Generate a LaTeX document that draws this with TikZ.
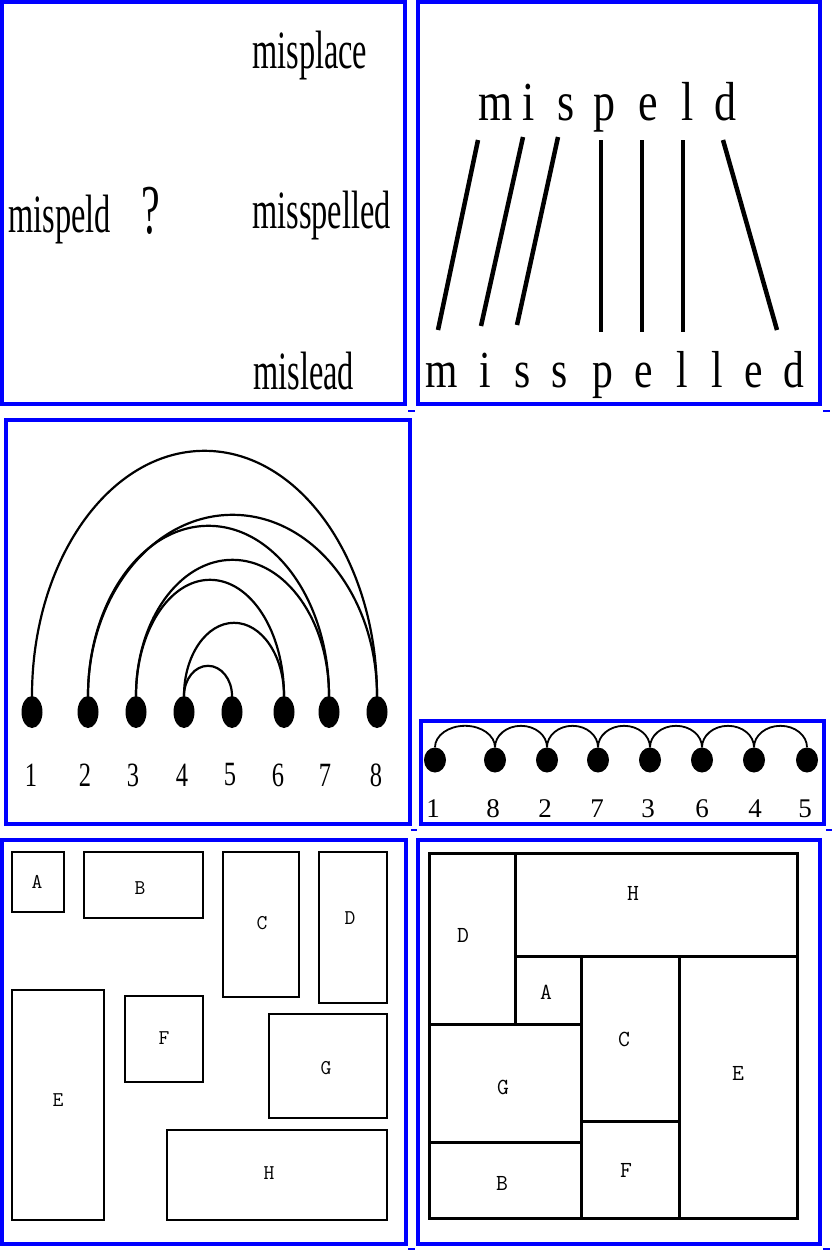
\documentclass[tikz,border=0pt]{standalone}
\usepackage{graphicx}
\usepackage{fontspec}
\setmainfont{Liberation Serif}
\usetikzlibrary{shapes.geometric}
\definecolor{frameblue}{RGB}{0,0,255}
\newcommand{\narrowword}[1]{\scalebox{0.6}[1]{#1}}
\newcommand{\midword}[1]{\scalebox{0.8}[1]{#1}}
\newcommand{\digitnarrow}[1]{\scalebox{0.72}[1]{#1}}
\begin{document}
\begin{tikzpicture}[x=1pt,y=-1pt,
  frame/.style={draw=frameblue,line width=4pt},
  tickmark/.style={draw=frameblue,line width=1.5pt},
  bigword/.style={anchor=base west,inner sep=0pt,font=\fontsize{54}{60}\selectfont},
  qmark/.style={anchor=base west,inner sep=0pt,font=\fontsize{70}{76}\selectfont},
  topletter/.style={anchor=base,inner sep=0pt,font=\fontsize{55}{60}\selectfont},
  botletter/.style={anchor=base,inner sep=0pt,font=\fontsize{52}{58}\selectfont},
  align line/.style={line width=4.5pt},
  bigdot/.style={ellipse,fill=black,draw=none,inner sep=0pt,minimum width=21pt,minimum height=32pt},
  smalldot/.style={ellipse,fill=black,draw=none,inner sep=0pt,minimum width=22pt,minimum height=25pt},
  bignum/.style={inner sep=0pt,font=\fontsize{34}{38}\selectfont},
  smallnum/.style={inner sep=0pt,font=\fontsize{27}{30}\selectfont},
  bigarc/.style={line width=2.2pt},
  smallarc/.style={line width=1.8pt},
  box/.style={draw=black,line width=2.5pt},
  tightbox/.style={draw=black,line width=3pt},
  boxlabel/.style={inner sep=0pt,font=\ttfamily\fontsize{21}{24}\selectfont},
  packlabel/.style={inner sep=0pt,font=\ttfamily\fontsize{23}{26}\selectfont}
]
\useasboundingbox[fill=white] (0,0) rectangle (834,1250);

% ---------- frames ----------
\draw[frame] (2,2) rectangle (405,404);
\draw[frame] (418,2) rectangle (820,404);
\draw[frame] (6,420) rectangle (410,824);
\draw[frame] (421,721) rectangle (824,824);
\draw[frame] (2,840) rectangle (406,1244);
\draw[frame] (418,840) rectangle (820,1244);
\draw[tickmark] (408,411) -- (415,411);
\draw[tickmark] (823,411) -- (830,411);
\draw[tickmark] (411,830) -- (417,830);
\draw[tickmark] (826,830) -- (832,830);
\draw[tickmark] (408,1249) -- (415,1249);
\draw[tickmark] (823,1249) -- (830,1249);

% ---------- panel 1 ----------
\node[bigword] (w1) at (252,68) {\narrowword{misplace}};
\node[bigword] (w0) at (8,232) {\narrowword{mispeld}};
\node[qmark] (qm) at (141,233) {\narrowword{?}};
\node[bigword] (w2) at (252,228) {\narrowword{misspelled}};
\node[bigword] (w3) at (253,389) {\narrowword{mislead}};

% ---------- panel 2 ----------
\node[topletter] (t1) at (496,120) {\midword{m}};
\node[topletter] (t2) at (529,120) {\midword{i}};
\node[topletter] (t3) at (566,120) {\midword{s}};
\node[topletter] (t4) at (604.5,120) {\midword{p}};
\node[topletter] (t5) at (648,120) {\midword{e}};
\node[topletter] (t6) at (687.5,120) {\midword{l}};
\node[topletter] (t7) at (725,120) {\midword{d}};

\node[botletter] (b1) at (441.5,387) {\midword{m}};
\node[botletter] (b2) at (485,387) {\midword{i}};
\node[botletter] (b3) at (522.5,387) {\midword{s}};
\node[botletter] (b4) at (559.5,387) {\midword{s}};
\node[botletter] (b5) at (602.5,387) {\midword{p}};
\node[botletter] (b6) at (643.5,387) {\midword{e}};
\node[botletter] (b7) at (682,387) {\midword{l}};
\node[botletter] (b8) at (717,387) {\midword{l}};
\node[botletter] (b9) at (753.5,387) {\midword{e}};
\node[botletter] (b10) at (794,387) {\midword{d}};

\coordinate (s1) at (478,140); \coordinate (e1) at (438,330);
\coordinate (s2) at (523,137); \coordinate (e2) at (481,326);
\coordinate (s3) at (558,137); \coordinate (e3) at (517,325);
\coordinate (s4) at (601,140); \coordinate (e4) at (601,332);
\coordinate (s5) at (642,140); \coordinate (e5) at (642,332);
\coordinate (s6) at (683,140); \coordinate (e6) at (683,332);
\coordinate (s7) at (723,140); \coordinate (e7) at (777,330);
\foreach \i in {1,...,7} {\draw[align line] (s\i) -- (e\i);}

% ---------- panel 3 ----------
\foreach \n/\x in {1/32,2/88,3/136,4/184,5/232,6/284,7/329,8/377}
  {\node[bigdot] (p\n) at (\x,712) {};}
\foreach \n/\x in {1/31,2/85,3/133,4/182,5/230,6/278,7/325,8/376}
  {\node[bignum] (n\n) at (\x,775) {\digitnarrow{\n}};}
\draw[bigarc] (p1.north) arc[start angle=180,end angle=0,x radius=172.5pt,y radius=245pt] -- (p8.north);
\draw[bigarc] (p2.north) arc[start angle=180,end angle=0,x radius=144.5pt,y radius=181pt] -- (p8.north);
\draw[bigarc] (p2.north) arc[start angle=180,end angle=0,x radius=120.5pt,y radius=170pt] -- (p7.north);
\draw[bigarc] (p3.north) arc[start angle=180,end angle=0,x radius=96.5pt,y radius=136pt] -- (p7.north);
\draw[bigarc] (p3.north) arc[start angle=180,end angle=0,x radius=74pt,y radius=116pt] -- (p6.north);
\draw[bigarc] (p4.north) arc[start angle=180,end angle=0,x radius=50pt,y radius=73pt] -- (p6.north);
\draw[bigarc] (p4.north) arc[start angle=180,end angle=0,x radius=24pt,y radius=30pt] -- (p5.north);

% ---------- panel 4 ----------
\foreach \n/\x in {a/435,b/495,c/547,d/598,e/650,f/702,g/754,h/807}
  {\node[smalldot] (q\n) at (\x,760) {};}
\node[smallnum] (m1) at (433,809) {1};
\node[smallnum] (m8) at (493,809) {8};
\node[smallnum] (m2) at (545,809) {2};
\node[smallnum] (m7) at (597,809) {7};
\node[smallnum] (m3) at (648,809) {3};
\node[smallnum] (m6) at (702,809) {6};
\node[smallnum] (m4) at (755,809) {4};
\node[smallnum] (m5) at (805,809) {5};
\draw[smallarc] (qa.north) arc[start angle=180,end angle=0,x radius=30pt,y radius=21.5pt] -- (qb.north);
\draw[smallarc] (qb.north) arc[start angle=180,end angle=0,x radius=26pt,y radius=21.5pt] -- (qc.north);
\draw[smallarc] (qc.north) arc[start angle=180,end angle=0,x radius=25.5pt,y radius=21.5pt] -- (qd.north);
\draw[smallarc] (qd.north) arc[start angle=180,end angle=0,x radius=26pt,y radius=21.5pt] -- (qe.north);
\draw[smallarc] (qe.north) arc[start angle=180,end angle=0,x radius=26pt,y radius=21.5pt] -- (qf.north);
\draw[smallarc] (qf.north) arc[start angle=180,end angle=0,x radius=26pt,y radius=21.5pt] -- (qg.north);
\draw[smallarc] (qg.north) arc[start angle=180,end angle=0,x radius=26.5pt,y radius=21.5pt] -- (qh.north);

% ---------- panel 5 ----------
\draw[box] (12,852) rectangle (64,912);
\draw[box] (84,852) rectangle (203,918);
\draw[box] (223,852) rectangle (299,997);
\draw[box] (319,852) rectangle (387,1003);
\draw[box] (12,990) rectangle (104,1220);
\draw[box] (125,996) rectangle (203,1082);
\draw[box] (269,1014) rectangle (387,1118);
\draw[box] (167,1130) rectangle (387,1220);
\node[boxlabel] (la) at (37,882) {A};
\node[boxlabel] (lb) at (140,888) {B};
\node[boxlabel] (lc) at (262,923) {C};
\node[boxlabel] (ld) at (350,918) {D};
\node[boxlabel] (le) at (58,1100) {E};
\node[boxlabel] (lf) at (164,1038) {F};
\node[boxlabel] (lg) at (326,1068) {G};
\node[boxlabel] (lh) at (269,1173) {H};

% ---------- panel 6 ----------
\draw[tightbox] (429,853) rectangle (797,1218);
\draw[tightbox] (515,853) -- (515,1024);
\draw[tightbox] (515,956) -- (797,956);
\draw[tightbox] (429,1024) -- (581,1024);
\draw[tightbox] (581,956) -- (581,1218);
\draw[tightbox] (679,956) -- (679,1218);
\draw[tightbox] (581,1121) -- (679,1121);
\draw[tightbox] (429,1142) -- (581,1142);
\node[packlabel] (kd) at (463,935) {D};
\node[packlabel] (kh) at (633,893) {H};
\node[packlabel] (ka) at (546,992) {A};
\node[packlabel] (kc) at (624,1039) {C};
\node[packlabel] (ke) at (738,1073) {E};
\node[packlabel] (kg) at (503,1087) {G};
\node[packlabel] (kb) at (502,1183) {B};
\node[packlabel] (kf) at (626,1170) {F};
\end{tikzpicture}
\end{document}
